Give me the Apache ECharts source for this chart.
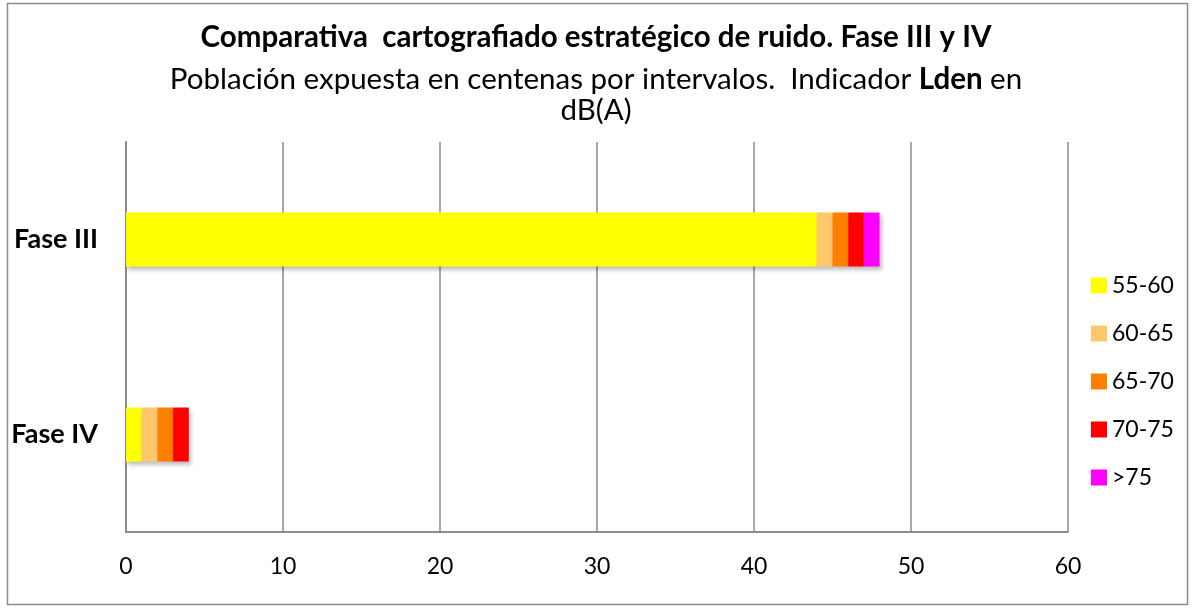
<!DOCTYPE html>
<html>
<head>
<meta charset="utf-8">
<script src="https://cdn.jsdelivr.net/npm/echarts@6/dist/echarts.min.js"></script>
<style>
html,body{margin:0;padding:0;background:#fff;}
#chart{width:1192px;height:609px;}
</style>
</head>
<body>
<div id="chart"></div>
<script>
const categories = ['Fase III', 'Fase IV'];
const seriesNames = ['55-60', '60-65', '65-70', '70-75', '>75'];
const s55_60 = [44, 1];
const s60_65 = [1, 1];
const s65_70 = [1, 1];
const s70_75 = [1, 1];
const s75 = [1, 0];
const colors = ['#FFFF00', '#FFC76B', '#FF8000', '#FF0000', '#FF00FF'];
const xTicks = [0, 10, 20, 30, 40, 50, 60];

const values = [s55_60, s60_65, s65_70, s70_75, s75];
const FONT = 'Lato';

const chart = echarts.init(document.getElementById('chart'));
chart.setOption({
  animation: false,
  textStyle: { fontFamily: FONT },
  graphic: [{
    type: 'rect',
    shape: { x: 7.5, y: 3.5, width: 1180, height: 601 },
    style: { fill: 'none', stroke: '#8c8c8c', lineWidth: 1.5 },
    silent: true
  }],
  title: [
    {
      text: 'Comparativa  cartografiado estratégico de ruido. Fase III y IV',
      left: 'center', top: 15,
      textStyle: { fontFamily: FONT, fontSize: 29.5, fontWeight: 'bold', color: '#000', lineHeight: 34 }
    },
    {
      text: 'Población expuesta en centenas por intervalos.  Indicador {b|Lden} en',
      left: 'center', top: 57,
      textStyle: {
        fontFamily: FONT, fontSize: 29.5, fontWeight: 'normal', color: '#000', lineHeight: 34,
        rich: { b: { fontFamily: FONT, fontSize: 29.5, fontWeight: 'bold', color: '#000', lineHeight: 34 } }
      }
    },
    {
      text: 'dB(A)',
      left: 'center', top: 88,
      textStyle: { fontFamily: FONT, fontSize: 29.5, fontWeight: 'normal', color: '#000', lineHeight: 34 }
    }
  ],
  legend: {
    orient: 'vertical',
    left: 1086,
    top: 269,
    itemWidth: 16,
    itemHeight: 16,
    itemGap: 25,
    icon: 'rect',
    textStyle: { fontFamily: FONT, fontSize: 23, color: '#000', padding: [0, 0, 0, 0] },
    data: seriesNames
  },
  grid: { left: 126, right: 124, top: 142, bottom: 77, containLabel: false },
  xAxis: {
    type: 'value',
    min: 0, max: 60, interval: 10,
    axisLine: { show: true, lineStyle: { color: '#8c8c8c', width: 2 } },
    axisTick: { show: false },
    splitLine: { show: true, lineStyle: { color: '#8c8c8c', width: 1.5 } },
    axisLabel: {
      margin: 23,
      fontFamily: FONT, fontSize: 23, color: '#000',
      formatter: function (v) { return xTicks.indexOf(v) >= 0 ? String(v) : ''; }
    }
  },
  yAxis: {
    type: 'category',
    inverse: true,
    data: categories,
    axisLine: { show: true, lineStyle: { color: '#8c8c8c', width: 2 } },
    axisTick: { show: false },
    axisLabel: { margin: 28, fontFamily: FONT, fontSize: 27, fontWeight: 'bold', color: '#000' }
  },
  series: seriesNames.map(function (name, i) {
    return {
      name: name,
      type: 'bar',
      stack: 'total',
      barWidth: 54,
      itemStyle: {
        color: colors[i],
        shadowColor: 'rgba(0,0,0,0.25)',
        shadowBlur: 4,
        shadowOffsetX: 2,
        shadowOffsetY: 3
      },
      data: values[i]
    };
  })
});
</script>
</body>
</html>
